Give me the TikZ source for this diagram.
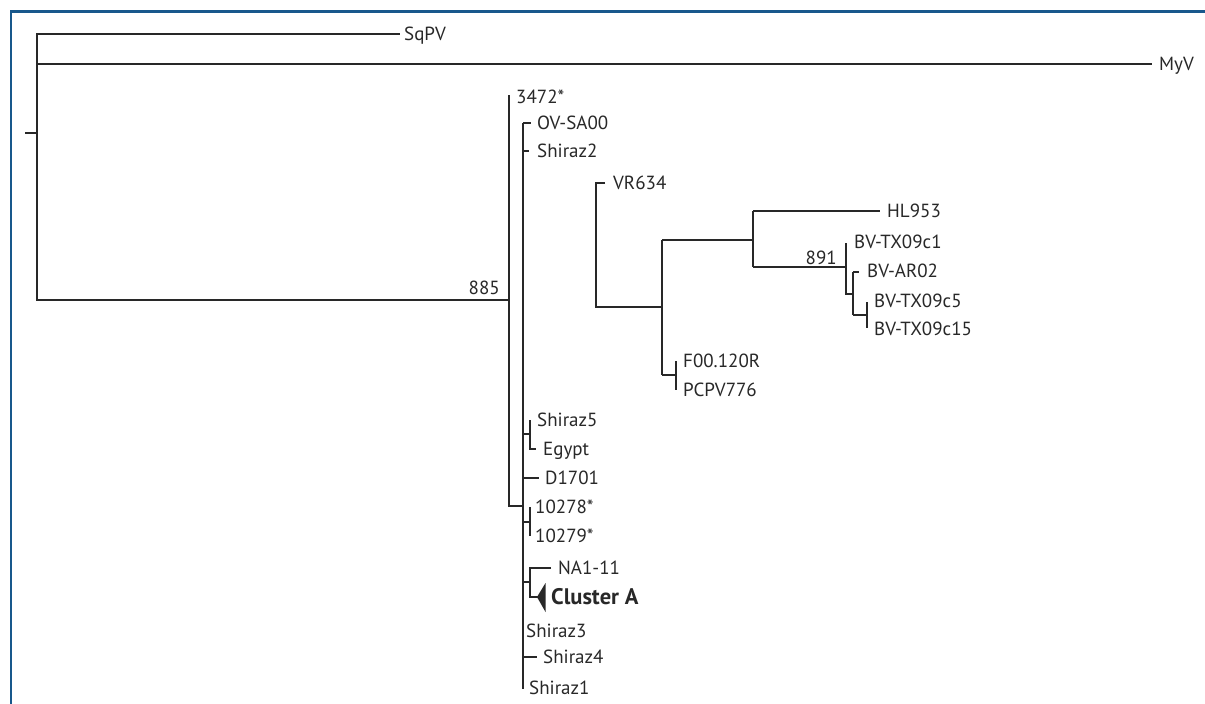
\documentclass[tikz,border=0pt]{standalone}
\usepackage{fontspec}
\setmainfont{PT Sans}
\definecolor{frameblue}{RGB}{24,88,140}
\definecolor{treegray}{RGB}{40,40,40}
\begin{document}
\begin{tikzpicture}[x=1pt,y=-1pt,
  br/.style={draw=treegray,line width=1.1pt},
  leaf/.style={anchor=base west,inner sep=0pt,yshift=-6.6pt,font=\fontsize{19}{19}\selectfont,text=treegray},
  boot/.style={anchor=base east,inner sep=0pt,yshift=-6.6pt,font=\fontsize{19}{19}\selectfont,text=treegray},
  cladelabel/.style={anchor=base west,inner sep=0pt,yshift=-7.8pt,font=\fontsize{22.5}{22.5}\selectfont\bfseries,text=treegray},
  clade/.style={fill=treegray,draw=none}]
\useasboundingbox (0,0) rectangle (1205,704);
\fill[white] (0,0) rectangle (1205,704);
\draw[frameblue,line width=2.6pt] (10.8,704) -- (10.8,11.5) -- (1205,11.5);

% internal nodes and tips
\coordinate (r0) at (25,133);
\coordinate (r) at (37,133);
\coordinate (tSq) at (400,34);
\coordinate (tMy) at (1152,64);
\coordinate (n885) at (509,300);
\coordinate (t3472) at (509,95);
\coordinate (nAj) at (523,506);
\coordinate (nAtop) at (523,123);
\coordinate (nAbot) at (523,689);
\coordinate (tOV) at (531,123);
\coordinate (tSh2) at (529,151);
\coordinate (nSEj) at (523,434);
\coordinate (nSE) at (530,434);
\coordinate (tSh5) at (530,420);
\coordinate (nEg) at (530,449);
\coordinate (tEg) at (536,449);
\coordinate (nD) at (523,478);
\coordinate (tD) at (539,478);
\coordinate (n10j) at (523,522);
\coordinate (n10) at (530,522);
\coordinate (t10a) at (530,507);
\coordinate (t10b) at (530,536);
\coordinate (nNCj) at (523,582);
\coordinate (nNC) at (530,582);
\coordinate (tNA) at (551,568);
\coordinate (tCA) at (538,597);
\coordinate (nS4) at (523,657);
\coordinate (tS4) at (537,657);
% floating clade
\coordinate (tVR) at (605,183);
\coordinate (nVR) at (596,245);
\coordinate (nB) at (662,307);
\coordinate (nC) at (753,240);
\coordinate (nF) at (676,375);
\coordinate (tF1) at (676,361);
\coordinate (tF2) at (676,390);
\coordinate (tHL) at (880,211);
\coordinate (n891) at (846,267);
\coordinate (tBV1) at (846,243);
\coordinate (nE) at (853,294);
\coordinate (tAR) at (859,272);
\coordinate (nG) at (867,315);
\coordinate (tBV5) at (867,302);
\coordinate (tBV15) at (867,328);

% labels
\node[leaf] (SqPV) at (404,34) {SqPV};
\node[leaf] (MyV) at (1159,64) {MyV};
\node[leaf] (L3472) at (516,97) {3472*};
\node[leaf] (OV) at (537,123) {OV-SA00};
\node[leaf] (Sh2) at (537,151) {Shiraz2};
\node[leaf] (VR) at (613,183) {VR634};
\node[leaf] (HL) at (887,211) {HL953};
\node[leaf] (BV1) at (854,242) {BV-TX09c1};
\node[leaf] (AR) at (867,271) {BV-AR02};
\node[leaf] (BV5) at (874,301) {BV-TX09c5};
\node[leaf] (BV15) at (874,329) {BV-TX09c15};
\node[leaf] (F00) at (683,361) {F00.120R};
\node[leaf] (PC) at (683,390) {PCPV776};
\node[leaf] (Sh5) at (537,420) {Shiraz5};
\node[leaf] (Eg) at (543,449) {Egypt};
\node[leaf] (D17) at (545,478) {D1701};
\node[leaf] (L10278) at (535,507) {10278*};
\node[leaf] (L10279) at (535,536) {10279*};
\node[leaf] (NA) at (558,568) {NA1-11};
\node[cladelabel] (CA) at (551,597) {Cluster A};
\node[leaf] (Sh3) at (526,631) {Shiraz3};
\node[leaf] (Sh4) at (543,657) {Shiraz4};
\node[leaf] (Sh1) at (529,688) {Shiraz1};
\node[boot] (b885) at (500,288) {885};
\node[boot] (b891) at (837,258) {891};

% branches
\draw[br] (r0) -- (r);
\draw[br] (r) |- (tSq);
\draw[br] (r) |- (tMy);
\draw[br] (r) |- (n885);
\draw[br] (n885) -- (t3472);
\draw[br] (n885) |- (nAj);
\draw[br] (nAtop) -- (nAbot);
\draw[br] (nAtop) -- (tOV);
\draw[br] (nAtop |- tSh2) -- (tSh2);
\draw[br] (nSEj) -- (nSE);
\draw[br] (tSh5) -- (nEg) -- (tEg);
\draw[br] (nD) -- (tD);
\draw[br] (n10j) -- (n10);
\draw[br] (t10a) -- (t10b);
\draw[br] (nNCj) -- (nNC);
\draw[br] (tNA) -| (nNC) |- (tCA);
\fill[clade] (537,597) -- (545.5,583) -- (545.5,612) -- cycle;
\draw[br] (nS4) -- (tS4);

\draw[br] (tVR) -| (nVR) |- (nB);
\draw[br] (nB |- nC) -- (nB |- nF);
\draw[br] (nB |- nC) -- (nC);
\draw[br] (nB |- nF) -- (nF);
\draw[br] (tF1) -- (tF2);
\draw[br] (nC |- tHL) -- (nC |- n891);
\draw[br] (nC |- tHL) -- (tHL);
\draw[br] (nC |- n891) -- (n891);
\draw[br] (tBV1) -- (n891 |- nE) -- (nE);
\draw[br] (nE |- tAR) -- (nE |- nG);
\draw[br] (nE |- tAR) -- (tAR);
\draw[br] (nE |- nG) -- (nG);
\draw[br] (tBV5) -- (tBV15);
\end{tikzpicture}
\end{document}
